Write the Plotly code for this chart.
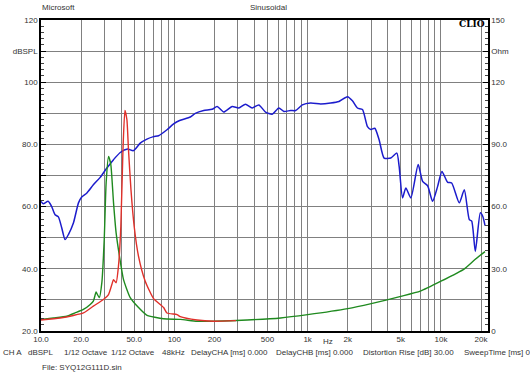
import plotly.graph_objects as go

# ---- data ----
spl_freq = [10, 10.4, 11.3, 12.0, 12.75, 13.5, 14.3, 15.15, 16.05, 17.5, 19.1, 20.2, 22.1, 24.7,
            27.8, 31.2, 35.0, 39.3, 44.6, 49.4, 55.5, 62.3, 69.9, 76.2, 88.1, 98.8, 109.6,
            131.9, 143.8, 166.1, 192.1, 209.4, 234.8, 271.5, 304.5, 341.8, 383.9, 430.4,
            483.3, 542.8, 608.4, 663.4, 745.2, 812.5, 912.7, 1053, 1252, 1489, 1719, 1989,
            2168, 2364, 2578, 2811, 2977, 3190, 3437, 3748, 4208, 4668, 4859, 5152, 5455,
            5948, 6750, 7286, 7943, 8662, 9445, 10174, 11230, 12035, 13726, 14970, 16326,
            17015, 18110, 19748, 20584, 21422]
spl_db = [61.7, 60.9, 61.7, 60.1, 57.4, 56.7, 53.2, 49.4, 51.0, 54.7, 61.2, 63.1, 64.4, 67.0,
          69.4, 72.4, 75.1, 77.4, 78.5, 78.0, 80.4, 81.7, 82.5, 82.8, 84.7, 86.6, 87.7,
          88.8, 90.0, 90.9, 91.3, 92.2, 90.4, 92.2, 91.7, 92.9, 91.7, 92.7,
          90.4, 89.7, 91.7, 90.6, 90.9, 90.9, 92.7, 93.3, 93.0, 93.3, 93.8, 95.3,
          94.0, 91.7, 91.2, 85.7, 84.8, 85.2, 81.5, 75.6, 75.6, 77.2, 72.9, 62.8, 66.0,
          62.8, 73.5, 68.1, 66.7, 61.7, 66.5, 71.3, 67.8, 67.6, 61.2, 65.4, 55.8,
          55.3, 45.6, 58.0, 56.9, 53.9]

green_freq = [10, 12.4, 15.6, 18.0, 20.8, 23.4, 24.7, 25.9, 26.5, 27.4, 28.6, 29.8, 30.8, 32.1,
              33.4, 35.0, 36.6, 38.8, 41.6, 46.7, 53.9, 62.0, 83.0, 111, 148, 197, 352, 627,
              1000, 2000, 3000, 5000, 7000, 10000, 15000, 18000, 21400]
green_ohm = [5.6, 6.3, 7.1, 8.7, 10.4, 12.8, 14.4, 18.8, 17.6, 16.1, 23.3, 44.1, 71.4, 84.2,
             80.3, 61.8, 47.3, 36.0, 24.8, 16.1, 11.3, 7.7, 5.9, 5.6, 4.7, 4.7, 5.3, 6.3,
             7.9, 10.8, 13.2, 16.7, 19.2, 24.0, 30.0, 34.5, 38.3]

red_freq = [10, 13.9, 17.5, 20.8, 24.7, 29.4, 32.1, 34.0, 35.0, 36.6, 38.1, 39.7, 41.2, 42.6,
            44.1, 45.3, 47.3, 50.0, 53.9, 60.5, 69.9, 83.1, 88.1, 104.8, 110.9, 148, 197, 290]
red_ohm = [5.3, 6.3, 7.5, 8.7, 12.0, 15.2, 17.6, 22.4, 24.8, 23.3, 31.2, 50.4, 87.5, 106.4,
           101.9, 87.5, 68.1, 50.4, 36.0, 24.0, 15.6, 11.3, 8.7, 7.9, 6.9, 5.3, 4.7, 5.0]

x_tickvals = [10, 20, 30, 40, 50, 60, 70, 80, 90, 100, 200, 300, 400, 500, 600, 700, 800, 900,
              1000, 2000, 3000, 4000, 5000, 6000, 7000, 8000, 9000, 10000, 20000]
x_ticktext = ["10.0", "20.0", "", "", "50.0", "", "", "", "", "100", "200", "", "", "500", "", "",
              "", "", "1k", "2k", "", "", "5k", "", "", "", "", "10k", "20k"]
y_tickvals = [20, 30, 40, 50, 60, 70, 80, 90, 100, 110, 120]
y_ticktext = ["20.0", "", "40.0", "", "60.0", "", "80.0", "", "100", "dBSPL", "120"]
y2_tickvals = [0, 30, 60, 90, 120, 135, 150]
y2_ticktext = ["0", "30.0", "60.0", "90.0", "120", "Ohm", "150"]

# ---- figure ----
W, H = 530, 374
L, R, T, B = 41, 42, 20, 42.5
pw = W - L - R
ph = H - T - B


def px(x):
    return (x - L) / pw


def py(y):
    return 1 - (y - T) / ph


fig = go.Figure()
fig.add_trace(go.Scatter(x=green_freq, y=green_ohm, yaxis="y2", mode="lines",
                         line=dict(color="#1f8a1f", width=1.4, shape="spline", smoothing=0.5),
                         showlegend=False))
fig.add_trace(go.Scatter(x=red_freq, y=red_ohm, yaxis="y2", mode="lines",
                         line=dict(color="#e0302a", width=1.4, shape="spline", smoothing=0.5),
                         showlegend=False))
fig.add_trace(go.Scatter(x=spl_freq, y=spl_db, mode="lines",
                         line=dict(color="#1c1ccc", width=1.5, shape="spline", smoothing=0.6),
                         showlegend=False))

font = dict(family="Liberation Sans, Arial, sans-serif", size=8, color="#333333")

fig.update_layout(
    width=W, height=H,
    margin=dict(l=L, r=R, t=T, b=B, pad=0),
    paper_bgcolor="white", plot_bgcolor="white",
    font=font,
    xaxis=dict(type="log", range=[1, 4.353], tickvals=x_tickvals, ticktext=x_ticktext,
               showgrid=True, gridcolor="#808080", gridwidth=1.2, automargin=False,
               showline=True, linecolor="black", linewidth=1.5, mirror=True,
               ticks="", zeroline=False, tickfont=font),
    yaxis=dict(range=[20, 120], tickvals=y_tickvals, ticktext=y_ticktext,
               showgrid=True, gridcolor="#808080", gridwidth=1.2, automargin=False,
               showline=True, linecolor="black", linewidth=1.5, mirror=True,
               ticks="inside", ticklen=5, tickcolor="black",
               minor=dict(dtick=2, ticks="inside", ticklen=3, tickcolor="#444", showgrid=False),
               zeroline=False, tickfont=font),
    yaxis2=dict(range=[0, 150], overlaying="y", side="right", tickvals=y2_tickvals,
                ticktext=y2_ticktext, showgrid=False, showline=True, linecolor="black",
                linewidth=1.5, ticks="inside", ticklen=5, tickcolor="black", automargin=False,
                minor=dict(dtick=3, ticks="inside", ticklen=3, tickcolor="#444"),
                zeroline=False, tickfont=font),
)

ann = [
    ("Microsoft", 40, 7, "left"),
    ("Sinusoidal", 248, 7, "left"),
    ("Hz", 328, 342, "center"),
    ("CH A", 1, 353, "left"),
    ("dBSPL", 26, 353, "left"),
    ("1/12 Octave", 62, 353, "left"),
    ("1/12 Octave", 109, 353, "left"),
    ("48kHz", 160, 353, "left"),
    ("DelayCHA [ms] 0.000", 189, 353, "left"),
    ("DelayCHB [ms] 0.000", 274, 353, "left"),
    ("Distortion Rise [dB] 30.00", 361, 353, "left"),
    ("SweepTime [ms] 0", 462, 353, "left"),
    ("File: SYQ12G111D.sin", 40, 368, "left"),
]
for text, x, y, anc in ann:
    fig.add_annotation(text=text, xref="paper", yref="paper", x=px(x), y=py(y),
                       xanchor=anc, yanchor="middle", showarrow=False, font=font)

fig.add_annotation(text="<b>CLIO</b>", xref="paper", yref="paper", x=px(487), y=py(24),
                   xanchor="right", yanchor="middle", showarrow=False,
                   font=dict(family="DejaVu Serif, serif", size=9, color="black"))

fig.write_html("out.html", config={"displayModeBar": False},
               post_script="document.body.style.margin='0';document.body.style.padding='0';")
